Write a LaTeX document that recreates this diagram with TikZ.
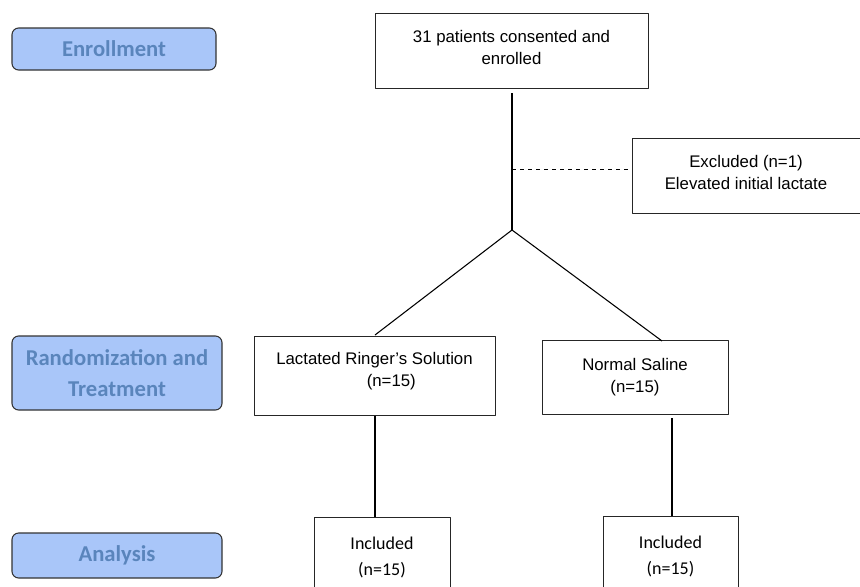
\documentclass[tikz,border=0pt]{standalone}
\usepackage{fontspec}
\setmainfont{Liberation Sans}
\newfontfamily\calibri{Carlito}
\usetikzlibrary{positioning}
\definecolor{stagefill}{HTML}{A9C6F9}
\definecolor{stagetext}{HTML}{5A85BC}
\begin{document}
\begin{tikzpicture}[x=0.75pt,y=-0.75pt, line join=round]
\tikzset{
  stage/.style={draw=black!80, fill=stagefill, rounded corners=5pt, line width=0.8pt,
    text=stagetext, font=\calibri\bfseries\fontsize{17}{23.5}\selectfont, align=center,
    minimum width=153pt, inner sep=0pt},
  flowbox/.style={draw=black!85, line width=0.6pt, align=center, inner sep=0pt,
    font=\fontsize{12.6}{16.5}\selectfont},
  incbox/.style={flowbox, font=\calibri\fontsize{13.5}{19.5}\selectfont},
  link/.style={line width=1.4pt},
}
\useasboundingbox (0,0) rectangle (860,586);
\clip (0,0) rectangle (860,586);
% stages on the left
\node[stage, minimum width=153pt, minimum height=31.5pt] (enrol) at (114,49) {Enrollment};
\node[stage, minimum width=157.5pt, minimum height=55.5pt] (rand) at (117,373) {Randomization and\\Treatment};
\node[stage, minimum width=157.5pt, minimum height=33.75pt] (anal) at (117,555.5) {Analysis};
% boxes
\node[flowbox, minimum width=204.75pt, minimum height=56.25pt, text depth=4pt] (enrolled) at (511.5,50.5) {31 patients consented and\\enrolled};
\node[flowbox, minimum width=171pt, minimum height=56.25pt, text depth=4.5pt] (excl) at (746,175.5) {Excluded (n=1)\\Elevated initial lactate};
\node[flowbox, minimum width=180.75pt, minimum height=59.25pt, text depth=8.5pt] (lr) at (374.5,375.5) {Lactated Ringer's Solution\\\hspace*{2em}(n=15)};
\node[flowbox, minimum width=139.5pt, minimum height=55.5pt, text depth=2.5pt] (ns) at (635,377) {Normal Saline\\(n=15)};
\node[incbox, minimum width=102pt, minimum height=60pt] (inc1) at (382,557) {Included\\(n=15)};
\node[incbox, minimum width=101.25pt, minimum height=60pt] (inc2) at (670.5,556) {Included\\(n=15)};
% connectors
\coordinate (split) at (512,230);
\coordinate (top) at (512,93);
\draw[link] (top) -- (split);
\coordinate (exclfrom) at (512,169);
\draw[dashed, line width=0.6pt] (exclfrom) -- (exclfrom -| excl.west);
\draw[line width=0.8pt] (split) -- (375,335);
\draw[line width=0.8pt] (split) -- (662,341);
\coordinate (lrdown) at (375,416);
\coordinate (nsdown) at (672,418);
\draw[link] (lrdown) -- (lrdown |- inc1.north);
\draw[link] (nsdown) -- (nsdown |- inc2.north);
\end{tikzpicture}
\end{document}
